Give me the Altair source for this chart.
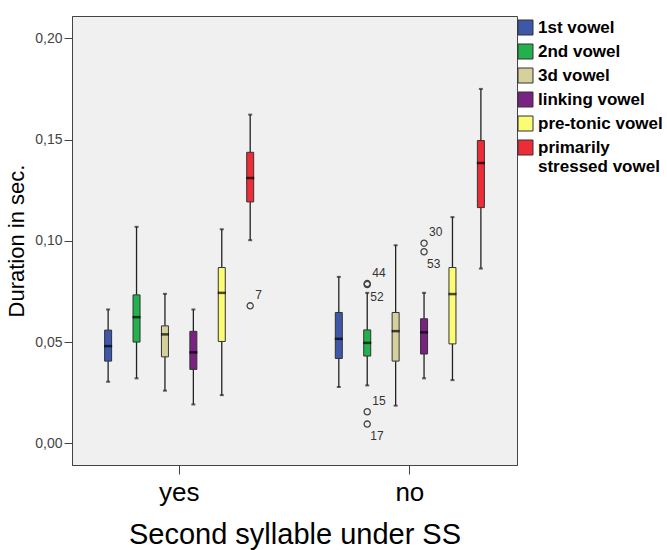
import altair as alt
import pandas as pd

groups = ["yes", "no"]
vowels = ["1st vowel", "2nd vowel", "3d vowel", "linking vowel",
          "pre-tonic vowel", "primarily stressed vowel"]
colors = ["#3d58aa", "#22b14c", "#d6d09c", "#7a2282", "#fbfb74", "#ee2c37"]

yes_low = [0.0304, 0.0321, 0.0260, 0.0192, 0.0238, 0.1003]
yes_q1 = [0.0406, 0.0500, 0.0427, 0.0365, 0.0503, 0.1192]
yes_med = [0.0480, 0.0623, 0.0538, 0.0449, 0.0743, 0.1310]
yes_q3 = [0.0559, 0.0733, 0.0580, 0.0553, 0.0868, 0.1437]
yes_high = [0.0661, 0.1069, 0.0738, 0.0661, 0.1057, 0.1623]

no_low = [0.0278, 0.0286, 0.0186, 0.0321, 0.0312, 0.0863]
no_q1 = [0.0419, 0.0431, 0.0406, 0.0441, 0.0491, 0.1164]
no_med = [0.0516, 0.0496, 0.0554, 0.0548, 0.0737, 0.1384]
no_q3 = [0.0646, 0.0560, 0.0646, 0.0615, 0.0868, 0.1495]
no_high = [0.0822, 0.0743, 0.0978, 0.0743, 0.1117, 0.1750]

outlier_group = ["yes", "no", "no", "no", "no", "no", "no"]
outlier_vowel = ["primarily stressed vowel", "2nd vowel", "2nd vowel", "2nd vowel",
                 "2nd vowel", "linking vowel", "linking vowel"]
outlier_value = [0.0679, 0.0789, 0.0784, 0.0156, 0.0095, 0.0988, 0.0946]
outlier_label = ["7", "44", "52", "15", "17", "30", "53"]

y_ticks = [0.0, 0.05, 0.10, 0.15, 0.20]

rows = []
for g, lo, q1, md, q3, hi in [("yes", yes_low, yes_q1, yes_med, yes_q3, yes_high),
                              ("no", no_low, no_q1, no_med, no_q3, no_high)]:
    for i, v in enumerate(vowels):
        rows.append(dict(group=g, vowel=v, low=lo[i], q1=q1[i], med=md[i],
                         q3=q3[i], high=hi[i]))
box_df = pd.DataFrame(rows)
out_df = pd.DataFrame(dict(group=outlier_group, vowel=outlier_vowel,
                           value=outlier_value, label=outlier_label))

FONT = "Liberation Sans"

x_enc = alt.X("group:N", sort=groups,
              scale=alt.Scale(paddingInner=0.261, paddingOuter=0.095),
              axis=alt.Axis(title="Second syllable under SS", labelAngle=0,
                            labelFontSize=26, labelColor="black", labelFont=FONT,
                            titleFontSize=29, titleFont=FONT, titleFontWeight="normal",
                            titleColor="black", tickSize=9, tickColor="#444",
                            domainColor="#444", labelPadding=5, titlePadding=15))
xo_enc = alt.XOffset("vowel:N", sort=vowels,
                     scale=alt.Scale(paddingInner=0, paddingOuter=0))
y_scale = alt.Scale(domain=[-0.0107, 0.211], nice=False, zero=False)
y_axis = alt.Axis(values=y_ticks,
                  labelExpr="replace(format(datum.value, '.2f'), '.', ',')",
                  title="Duration in sec.", titleFontSize=22, titleFont=FONT,
                  titleFontWeight="normal", titleColor="black",
                  labelFontSize=14, labelFont=FONT, labelColor="#444",
                  tickSize=8, tickColor="#444", domainColor="#444", grid=False,
                  labelPadding=2, titlePadding=6)

base = alt.Chart(box_df)

whisk_low = base.mark_rule(color="#222", strokeWidth=1.3).encode(
    x=x_enc, xOffset=xo_enc,
    y=alt.Y("low:Q", scale=y_scale, axis=y_axis), y2="q1:Q")
whisk_high = base.mark_rule(color="#222", strokeWidth=1.3).encode(
    x=x_enc, xOffset=xo_enc, y=alt.Y("q3:Q", scale=y_scale), y2="high:Q")
cap_low = base.mark_tick(color="#222", size=4, thickness=2).encode(
    x=x_enc, xOffset=xo_enc, y=alt.Y("low:Q", scale=y_scale))
cap_high = base.mark_tick(color="#222", size=4, thickness=2).encode(
    x=x_enc, xOffset=xo_enc, y=alt.Y("high:Q", scale=y_scale))
boxes = base.mark_bar(size=7, stroke="#333", strokeWidth=1).encode(
    x=x_enc, xOffset=xo_enc,
    y=alt.Y("q1:Q", scale=y_scale), y2="q3:Q",
    color=alt.Color("vowel:N", sort=vowels,
                    scale=alt.Scale(domain=vowels, range=colors),
                    legend=alt.Legend(
                        title=None, orient="none", legendX=445, legendY=3,
                        symbolType="square", symbolSize=225,
                        symbolStrokeColor="#333", symbolStrokeWidth=1,
                        symbolOpacity=1,
                        labelFont=FONT, labelFontSize=17, labelFontWeight="bold",
                        labelColor="black", labelOffset=4, labelLimit=300,
                        rowPadding=5, padding=0,
                        labelExpr="datum.label == 'primarily stressed vowel' ? ['primarily', 'stressed vowel'] : datum.label")))
medians = base.mark_tick(color="black", size=8, thickness=2.5).encode(
    x=x_enc, xOffset=xo_enc, y=alt.Y("med:Q", scale=y_scale))

obase = alt.Chart(out_df)
points = obase.mark_point(shape="circle", size=38, filled=False,
                          color="#444", strokeWidth=1.3, opacity=1).encode(
    x=x_enc, xOffset=xo_enc, y=alt.Y("value:Q", scale=y_scale))
above = ["7", "44", "15", "30"]
lab_above = obase.transform_filter(
    alt.FieldOneOfPredicate(field="label", oneOf=above)
).mark_text(align="left", baseline="middle", dx=5, dy=-11, fontSize=12,
            font=FONT, color="#333").encode(
    x=x_enc, xOffset=xo_enc, y=alt.Y("value:Q", scale=y_scale), text="label:N")
lab_below = obase.transform_filter(
    ~alt.FieldOneOfPredicate(field="label", oneOf=above)
).mark_text(align="left", baseline="middle", dx=3, dy=12, fontSize=12,
            font=FONT, color="#333").encode(
    x=x_enc, xOffset=xo_enc, y=alt.Y("value:Q", scale=y_scale), text="label:N")

chart = alt.layer(whisk_low, whisk_high, cap_low, cap_high, boxes, medians,
                  points, lab_above, lab_below).properties(
    width=445, height=449,
    autosize=alt.AutoSizeParams(type="none"),
    padding={"left": 72, "top": 16, "right": 150, "bottom": 85},
    background="white",
).configure_view(fill="#f0f0f0", stroke="#444", strokeWidth=1)

chart.save("out.html", embed_options={"renderer": "svg", "actions": False})
